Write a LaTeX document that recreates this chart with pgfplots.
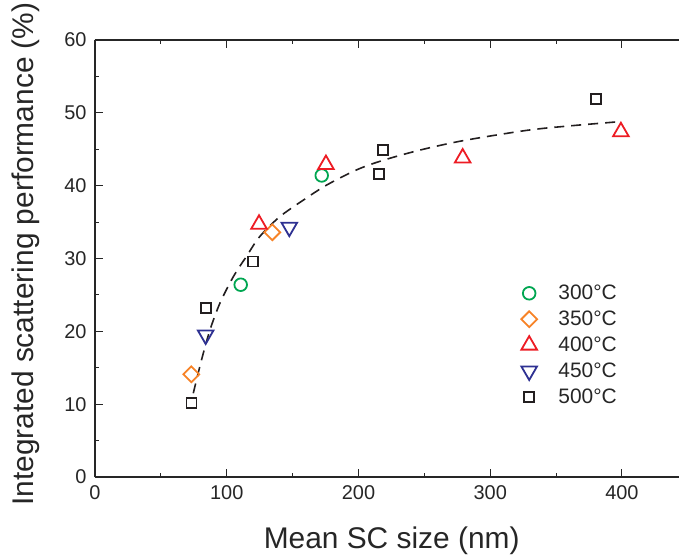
\documentclass[border=0pt]{standalone}
\usepackage{fontspec}
\setmainfont{Liberation Sans}
\usepackage{pgfplots}
\pgfplotsset{compat=1.18}
\definecolor{cgreen}{RGB}{0,166,81}
\definecolor{corange}{RGB}{247,131,39}
\definecolor{cred}{RGB}{237,28,36}
\definecolor{cblue}{RGB}{46,49,146}
\definecolor{cblack}{RGB}{35,31,32}
\begin{document}
\begin{tikzpicture}
\begin{axis}[name=ax,
  scale only axis, width=584bp, height=437bp,
  xmin=0, xmax=443.3, ymin=0, ymax=60,
  axis x line=box, axis y line=left, y axis line style={-},
  axis line style={line width=1.1bp, black!85},
  xtick={0,100,...,400}, ytick={0,10,...,60},
  minor x tick num=1, minor y tick num=1,
  tick align=inside, major tick length=8bp, minor tick length=4bp,
  tick style={line width=1bp, black!85},
  /pgf/number format/assume math mode=true,
  ticklabel style={font=\fontsize{20}{24}\selectfont, text=black!85},
  xticklabel style={yshift=-5bp},
  yticklabel style={xshift=-5bp},
  xlabel={Mean SC size (nm)},
  ylabel={Integrated scattering performance (\%)},
  xlabel style={at={(axis description cs:0.508,-0.1625)}, anchor=base},
  ylabel style={at={(axis description cs:-0.1045,0.51)}, anchor=base, rotate=0},
  label style={font=\fontsize{30}{36}\selectfont, text=black!85},
  legend image code/.code={\path (0bp,-12.75bp) (35bp,12.75bp); \draw[#1] plot coordinates {(8bp,0bp)};},
  legend style={draw=none, fill=none, font=\fontsize{21}{25}\selectfont,
    at={(0.724,0.455)}, anchor=north west, row sep=0pt, text=black!85},
  legend cell align=left,
]
\addplot[only marks, mark=o, mark size=6.3bp, cgreen, mark options={line width=1.8bp}]
  coordinates {(110.6,26.4) (172.1,41.4)};
\addlegendentry{300°C}
\addplot[only marks, mark=square, mark size=5.6bp, corange, mark options={line width=1.8bp, rotate=45}]
  coordinates {(73.1,14.1) (134.6,33.6)};
\addlegendentry{350°C}
\addplot[only marks, mark=triangle, mark size=9bp, cred, mark options={line width=1.8bp}]
  coordinates {(124.5,34.7) (175.3,42.9) (279.1,43.8) (399.2,47.4)};
\addlegendentry{400°C}
\addplot[only marks, mark=triangle, mark size=9bp, cblue, mark options={line width=1.8bp, rotate=180}]
  coordinates {(84.0,19.5) (147.5,34.3)};
\addlegendentry{450°C}
\addplot[only marks, mark=square, mark size=5bp, cblack, mark options={line width=1.8bp}]
  coordinates {(73.3,10.2) (84.3,23.2) (119.7,29.6) (215.8,41.6) (218.8,44.9) (380.3,51.9)};
\addlegendentry{500°C}
\addplot[smooth, cblack, line width=1.6bp, dash pattern=on 10bp off 7bp, forget plot]
  coordinates {(74.6,11.5) (80.9,16.1) (87.3,20.2) (94.9,23.9) (105,27.5) (115,30.3)
  (125,33.0) (140,35.7) (158,38.0) (176,40.1) (199,42.2) (219,43.5) (247,44.9)
  (280,46.2) (328,47.6) (360,48.2) (399,48.8)};
\end{axis}
\pgfresetboundingbox
\useasboundingbox ([shift={(-95bp,-83bp)}]ax.south west) rectangle ([shift={(584bp,477bp)}]ax.south west);
\end{tikzpicture}
\end{document}
